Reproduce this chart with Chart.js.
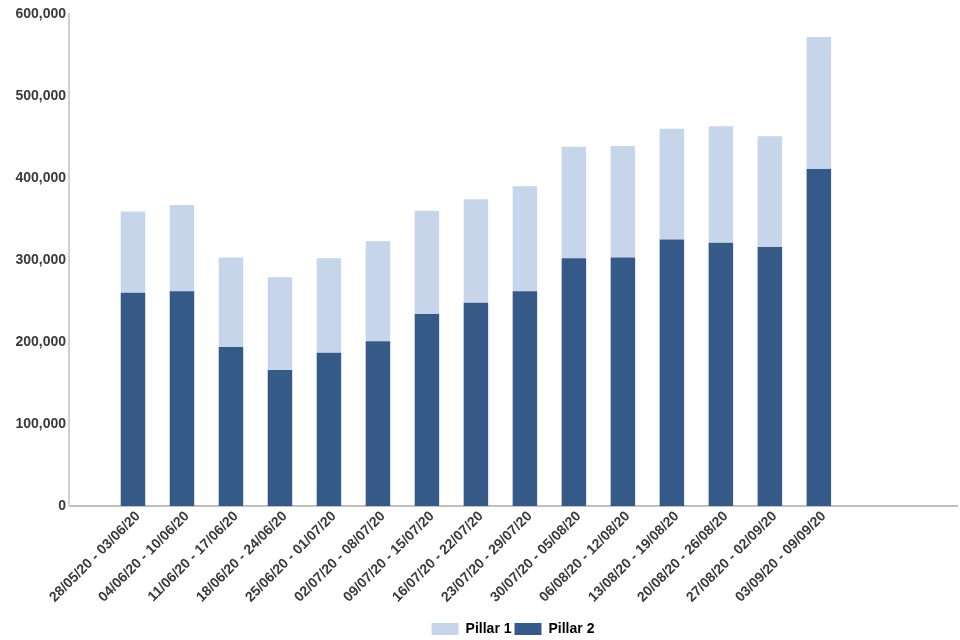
<!DOCTYPE html>
<html>
<head>
<meta charset="utf-8">
<title>Pillar 1 and Pillar 2 tests</title>
<script src="https://cdn.jsdelivr.net/npm/chart.js@4/dist/chart.umd.min.js"></script>
<style>
    html, body {
        margin: 0;
        padding: 0;
        background: #ffffff;
    }
    #wrap {
        width: 960px;
        height: 640px;
    }
</style>
</head>
<body>
<div id="wrap">
    <canvas id="testsChart" width="960" height="640"></canvas>
</div>

<script>

// =========================
// DATA
// =========================

const weeks = [
    '28/05/20 - 03/06/20',
    '04/06/20 - 10/06/20',
    '11/06/20 - 17/06/20',
    '18/06/20 - 24/06/20',
    '25/06/20 - 01/07/20',
    '02/07/20 - 08/07/20',
    '09/07/20 - 15/07/20',
    '16/07/20 - 22/07/20',
    '23/07/20 - 29/07/20',
    '30/07/20 - 05/08/20',
    '06/08/20 - 12/08/20',
    '13/08/20 - 19/08/20',
    '20/08/20 - 26/08/20',
    '27/08/20 - 02/09/20',
    '03/09/20 - 09/09/20'
];

const pillar1 = [
    99000, 105000, 109000, 113000, 115000,
    122000, 126000, 126000, 128000, 136000,
    136000, 135000, 142000, 135000, 161000
];

const pillar2 = [
    260000, 262000, 194000, 166000, 187000,
    201000, 234000, 248000, 262000, 302000,
    303000, 325000, 321000, 316000, 411000
];

const yTicks = [0, 100000, 200000, 300000, 400000, 500000, 600000];

// =========================
// CHART
// =========================

const tickFont = {
    family: '"Liberation Sans", Arial, sans-serif',
    size: 14,
    weight: 'bold'
};

const toPoints = values =>
    values.map((v, i) => ({ x: i, y: v }));

new Chart(document.getElementById('testsChart'), {

    type: 'bar',

    data: {
        datasets: [
            {
                label: 'Pillar 2',
                data: toPoints(pillar2),
                backgroundColor: '#355a87',
                borderWidth: 0
            },
            {
                label: 'Pillar 1',
                data: toPoints(pillar1),
                backgroundColor: '#c6d5e9',
                borderWidth: 0
            }
        ]
    },

    options: {
        responsive: false,
        animation: false,
        layout: {
            padding: { top: 14, right: 3, left: 0, bottom: -6 }
        },
        categoryPercentage: 1,
        barPercentage: 0.5,
        scales: {
            x: {
                type: 'linear',
                stacked: true,
                offset: false,
                min: -1.306,
                max: 16.82,
                grid: { display: false, drawTicks: false },
                border: { color: '#c0c0c0', width: 2 },
                afterBuildTicks: scale => {
                    scale.ticks = weeks.map((w, i) => ({ value: i }));
                },
                afterFit: scale => {
                    scale.height = 113;
                },
                ticks: {
                    autoSkip: false,
                    minRotation: 45,
                    maxRotation: 45,
                    padding: 2,
                    labelOffset: 5,
                    color: '#3a3a3a',
                    font: tickFont,
                    callback: value => weeks[value] ?? ''
                }
            },
            y: {
                stacked: true,
                min: 0,
                max: 600000,
                grid: { display: false, drawTicks: false },
                border: { color: '#d0d0d0', width: 2, dash: [2, 1] },
                afterBuildTicks: scale => {
                    scale.ticks = yTicks.map(v => ({ value: v }));
                },
                afterFit: scale => {
                    scale.width = 69;
                },
                ticks: {
                    padding: 3,
                    color: '#3a3a3a',
                    font: tickFont,
                    callback: value => value.toLocaleString('en-GB')
                }
            }
        },
        plugins: {
            tooltip: { enabled: false },
            legend: {
                position: 'bottom',
                fullSize: false,
                reverse: true,
                labels: {
                    boxWidth: 27,
                    boxHeight: 12,
                    padding: 3,
                    color: '#000000',
                    font: tickFont
                }
            }
        }
    }

});

</script>
</body>
</html>
